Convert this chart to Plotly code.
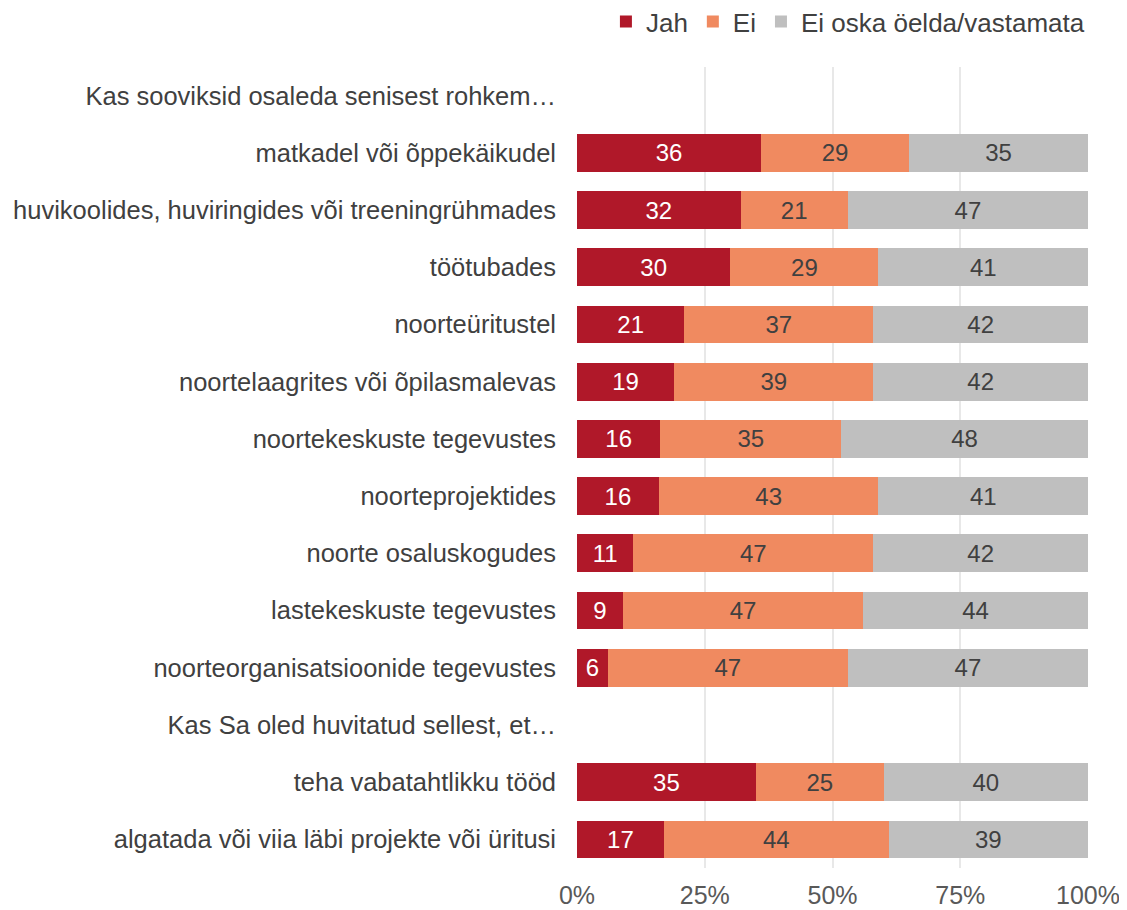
import plotly.graph_objects as go

categories = [
    "Kas sooviksid osaleda senisest rohkem…",
    "matkadel või õppekäikudel",
    "huvikoolides, huviringides või treeningrühmades",
    "töötubades",
    "noorteüritustel",
    "noortelaagrites või õpilasmalevas",
    "noortekeskuste tegevustes",
    "noorteprojektides",
    "noorte osaluskogudes",
    "lastekeskuste tegevustes",
    "noorteorganisatsioonide tegevustes",
    "Kas Sa oled huvitatud sellest, et…",
    "teha vabatahtlikku tööd",
    "algatada või viia läbi projekte või üritusi",
]
jah = [None, 36, 32, 30, 21, 19, 16.3, 16, 11, 9, 6, None, 35, 17]
ei = [None, 29, 21, 29, 37, 39, 35.4, 43, 47, 47, 47, None, 25, 44]
ei_oska = [None, 35, 47, 41, 42, 42, 48.3, 41, 42, 44, 47, None, 40, 39]

series = [
    ("Jah", jah, "#B01829", "white"),
    ("Ei", ei, "#F08A60", "#404040"),
    ("Ei oska öelda/vastamata", ei_oska, "#BFBFBF", "#404040"),
]

fig = go.Figure()
for name, vals, color, tcolor in series:
    fig.add_trace(go.Bar(
        y=categories, x=vals, name=name, orientation="h",
        marker=dict(color=color, line=dict(width=0)),
        texttemplate="%{x:.0f}",
        textposition="inside", insidetextanchor="middle",
        textfont=dict(color=tcolor, size=24),
        constraintext="none",
    ))

fig.update_layout(
    barmode="stack", bargap=0.34,
    width=1127, height=910,
    margin=dict(l=569, r=47, t=59, b=50),
    plot_bgcolor="white", paper_bgcolor="white",
    font=dict(family="Liberation Sans, Arial, sans-serif", size=25, color="#404040"),
    legend=dict(orientation="h", x=0.96, xanchor="right", xref="container",
                y=0.985, yanchor="middle", yref="container",
                font=dict(size=26, color="#404040"), itemwidth=30, traceorder="normal"),
    showlegend=True,
)
fig.update_xaxes(range=[0, 100], tickvals=[0, 25, 50, 75, 100],
                 ticktext=["0%", "25%", "50%", "75%", "100%"],
                 showgrid=True, gridcolor="#E8E8E8", gridwidth=2, zeroline=False,
                 tickfont=dict(size=25, color="#595959"), ticklabelstandoff=10,
                 automargin=False)
fig.update_yaxes(autorange="reversed", showgrid=False, ticks="",
                 tickfont=dict(size=25.5, color="#404040"), ticklabelstandoff=20,
                 automargin=False)

fig.write_html("out.html")
